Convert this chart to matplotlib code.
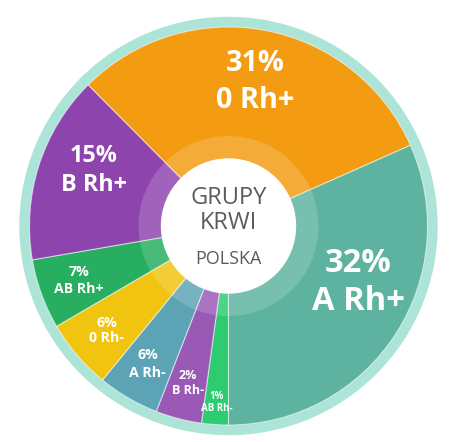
import matplotlib
matplotlib.use("Agg")
import matplotlib.pyplot as plt
from matplotlib.patches import Circle, Wedge
import numpy as np

# ---- data ----
groups = ["AB Rh-", "B Rh-", "A Rh-", "0 Rh-", "AB Rh+", "B Rh+", "0 Rh+", "A Rh+"]
percent_labels = ["1%", "2%", "6%", "6%", "7%", "15%", "31%", "32%"]
# drawn slice shares as they appear in the picture (percent of the circle)
slice_shares = [2.17, 3.75, 5.0, 5.69, 5.69, 15.28, 30.83, 31.67]
colors = ["#2ECC71", "#9B59B6", "#5CA4B5", "#F1C40F", "#27AE60", "#8E44AD", "#F39C12", "#5DB3A0"]
center_title = ["GRUPY", "KRWI", "POLSKA"]

# ---- layout / style ----
PX = 1 / 199.0  # one pixel in data units
label_radius = [0.890, 0.816, 0.805, 0.806, 0.80, 0.733, 0.736, 0.712]
label_angle_offset = [0, 0, 0, 0, 0, -4.8, 0, 9.7]
label_line_gap_px = [12, 15, 18, 15, 16.7, 29, 37, 38]
label_size_pct = [7, 9, 10.2, 10.2, 10.2, 16.8, 20.8, 23.6]
label_size_name = [7, 9, 10.2, 10.2, 10.2, 16.8, 20.8, 23.6]

fig = plt.figure(figsize=(4.56, 4.42), dpi=100)
ax = fig.add_axes([0, 0, 1, 1])

# outer light ring
ax.add_patch(Circle((0, 0), 208.5 * PX, color="#ACE4D7", zorder=0))

wedges, _ = ax.pie(slice_shares, colors=colors, startangle=-90, counterclock=False,
                   radius=1.0, center=(0, 0), frame=True,
                   wedgeprops=dict(edgecolor=(1, 1, 1, 0.55), linewidth=0.8))
ax.set_xlim(-228.5 * PX, (456 - 228.5) * PX)
ax.set_ylim(-(442 - 226) * PX, 226 * PX)
ax.set_aspect("equal")
ax.axis("off")
for w in wedges:
    w.set_zorder(1)

# translucent inner ring and white centre
ax.add_patch(Wedge((0, 0), 90 * PX, 0, 360, width=23 * PX, facecolor="white",
                   alpha=0.16, edgecolor="none", zorder=2))
ax.add_patch(Circle((0, 0), 67 * PX, color="white", zorder=3))

font = "Open Sans"
ax.text(0, 0.141, center_title[0], ha="center", va="center", fontsize=17,
        color="#5c5c5c", family=font, zorder=4)
ax.text(0, 0.014, center_title[1], ha="center", va="center", fontsize=17,
        color="#5c5c5c", family=font, zorder=4)
ax.text(0, -0.164, center_title[2], ha="center", va="center", fontsize=13,
        color="#5c5c5c", family=font, zorder=4)

for i, w in enumerate(wedges):
    mid = np.deg2rad((w.theta1 + w.theta2) / 2 + label_angle_offset[i])
    r = label_radius[i]
    cx, cy = r * np.cos(mid), r * np.sin(mid)
    g = label_line_gap_px[i] * PX / 2
    ax.text(cx, cy + g, percent_labels[i], ha="center", va="center",
            fontsize=label_size_pct[i], color="white", fontweight="bold",
            family=font, zorder=5)
    ax.text(cx, cy - g, groups[i], ha="center", va="center",
            fontsize=label_size_name[i], color="white", fontweight="bold",
            family=font, zorder=5)

fig.savefig("out.png", dpi=100, facecolor="white")
